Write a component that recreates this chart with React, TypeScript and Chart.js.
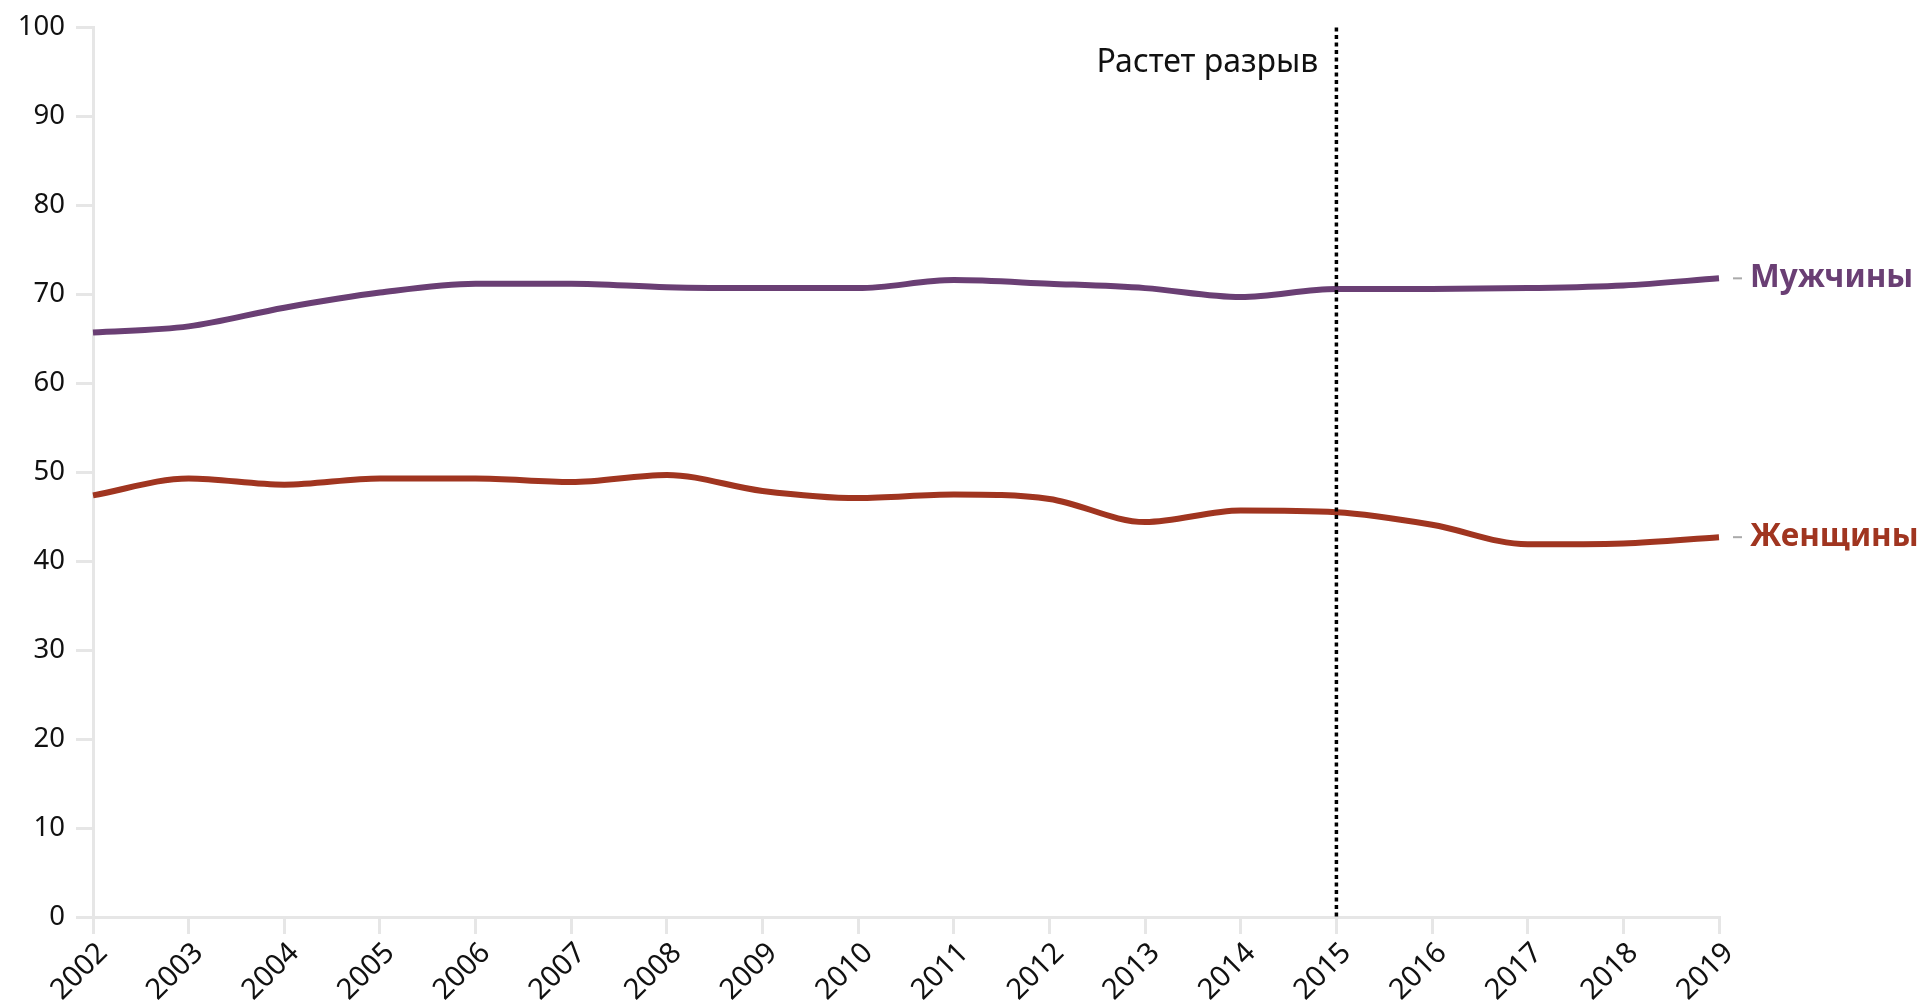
import React, { useEffect, useRef } from "react";
import { Chart, registerables } from "chart.js";

Chart.register(...registerables);

const years = ["2002","2003","2004","2005","2006","2007","2008","2009","2010","2011","2012","2013","2014","2015","2016","2017","2018","2019"];
const men = [65.7, 66.4, 68.5, 70.2, 71.2, 71.2, 70.8, 70.7, 70.7, 71.6, 71.2, 70.7, 69.7, 70.6, 70.6, 70.7, 71.0, 71.8];
const women = [47.4, 49.3, 48.6, 49.3, 49.3, 48.9, 49.7, 47.9, 47.1, 47.5, 47.0, 44.4, 45.7, 45.5, 44.1, 41.9, 42.0, 42.7];
const yTicks = [0, 10, 20, 30, 40, 50, 60, 70, 80, 90, 100];
const menLabel = "Мужчины";
const womenLabel = "Женщины";
const markerYear = "2015";
const markerText = "Растет разрыв";

const MEN_COLOR = "#6a3f74";
const WOMEN_COLOR = "#a03520";
const AXIS_COLOR = "#e6e6e6";
const FONT = "'Noto Sans', sans-serif";

const overlayPlugin = {
  id: "overlay",
  afterDatasetsDraw(chart: any) {
    const { ctx, chartArea, scales } = chart;
    const xs = scales.x;
    const ys = scales.y;
    const mx = xs.getPixelForValue(years.indexOf(markerYear));
    ctx.save();
    // dotted marker line
    ctx.strokeStyle = "#000";
    ctx.lineWidth = 3.5;
    ctx.setLineDash([4, 3.5]);
    ctx.beginPath();
    ctx.moveTo(mx, chartArea.top);
    ctx.lineTo(mx, chartArea.bottom);
    ctx.stroke();
    ctx.setLineDash([]);
    // annotation text
    ctx.fillStyle = "#111";
    ctx.font = `32px ${FONT}`;
    ctx.textAlign = "right";
    ctx.textBaseline = "middle";
    ctx.fillText(markerText, mx - 18, ys.getPixelForValue(96.0));
    // end labels
    const lastX = xs.getPixelForValue(years.length - 1);
    const items = [
      { label: menLabel, value: men[men.length - 1], color: MEN_COLOR },
      { label: womenLabel, value: women[women.length - 1], color: WOMEN_COLOR },
    ];
    for (const it of items) {
      const y = ys.getPixelForValue(it.value);
      ctx.strokeStyle = "#aaaaaa";
      ctx.lineWidth = 2;
      ctx.beginPath();
      ctx.moveTo(lastX + 14, y);
      ctx.lineTo(lastX + 23, y);
      ctx.stroke();
      ctx.fillStyle = it.color;
      ctx.font = `bold 31.5px ${FONT}`;
      ctx.textAlign = "left";
      ctx.textBaseline = "middle";
      ctx.fillText(it.label, lastX + 31, y);
    }
    ctx.restore();
  },
};

export default function App() {
  const ref = useRef<HTMLCanvasElement | null>(null);
  useEffect(() => {
    document.body.style.margin = "0";
    const canvas = ref.current!;
    const chart = new Chart(canvas, {
      type: "line",
      data: {
        labels: years,
        datasets: [
          {
            label: menLabel,
            data: men,
            borderColor: MEN_COLOR,
            borderWidth: 6,
            pointRadius: 0,
            cubicInterpolationMode: "monotone",
            fill: false,
          },
          {
            label: womenLabel,
            data: women,
            borderColor: WOMEN_COLOR,
            borderWidth: 6,
            pointRadius: 0,
            cubicInterpolationMode: "monotone",
            fill: false,
          },
        ],
      },
      options: {
        animation: false,
        responsive: false,
        maintainAspectRatio: false,
        layout: { padding: { left: 0, right: 207, top: 25, bottom: 0 } },
        plugins: { legend: { display: false }, tooltip: { enabled: false } },
        scales: {
          x: {
            type: "category",
            offset: false,
            grid: {
              drawOnChartArea: false,
              drawTicks: true,
              tickLength: 17,
              color: AXIS_COLOR,
              lineWidth: 3,
            },
            border: { display: true, color: AXIS_COLOR, width: 3 },
            ticks: {
              autoSkip: false,
              maxRotation: 45,
              minRotation: 45,
              padding: 2,
              labelOffset: 10,
              color: "#111",
              font: { family: FONT, size: 29 },
            },
            afterFit(scale: any) {
              scale.height = 89;
            },
          },
          y: {
            min: 0,
            max: 100,
            afterBuildTicks(scale: any) {
              scale.ticks = yTicks.map((v) => ({ value: v }));
            },
            grid: {
              drawOnChartArea: false,
              drawTicks: true,
              tickLength: 17,
              color: AXIS_COLOR,
              lineWidth: 3,
            },
            border: { display: true, color: AXIS_COLOR, width: 3 },
            ticks: {
              padding: 11,
              color: "#111",
              font: { family: FONT, size: 27.5 },
            },
            afterFit(scale: any) {
              scale.width = 93;
            },
          },
        },
      },
      plugins: [overlayPlugin],
    } as any);
    return () => chart.destroy();
  }, []);
  return (
    <div style={{ position: "absolute", left: 0, top: 0, width: 1926, height: 1006, background: "#fff" }}>
      <canvas ref={ref} width={1926} height={1006} style={{ width: 1926, height: 1006, display: "block" }} />
    </div>
  );
}
